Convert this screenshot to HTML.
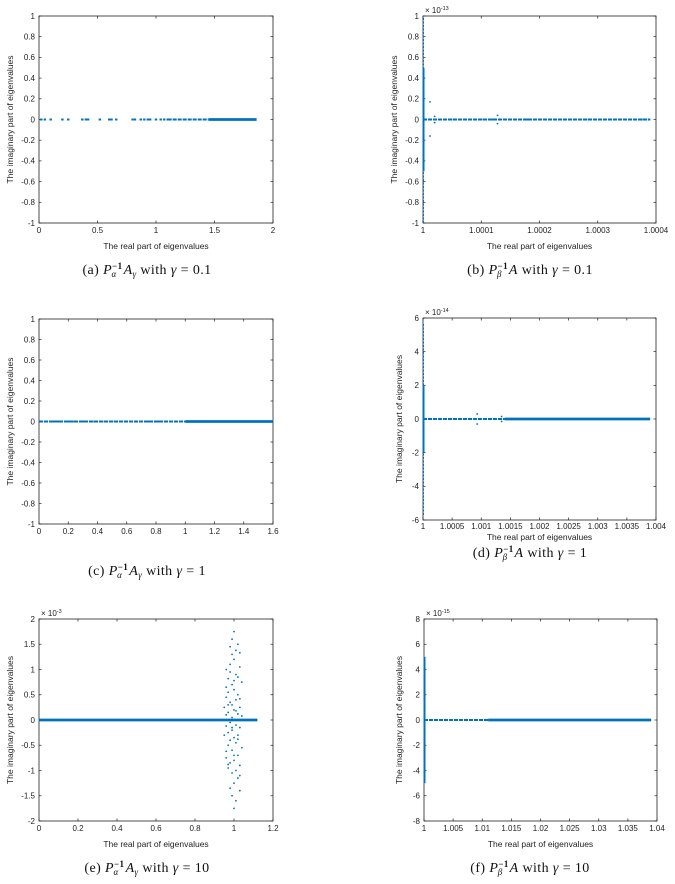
<!DOCTYPE html>
<html><head><meta charset="utf-8">
<style>
html,body{margin:0;padding:0;background:#fff;width:675px;height:884px;overflow:hidden}
svg{display:block}
.tk{font-family:"Liberation Sans",sans-serif;font-size:8px;fill:#222}
.lb{font-family:"Liberation Sans",sans-serif;font-size:8.5px;fill:#222}
.cap{font-family:"Liberation Serif",serif;font-size:14px;fill:#111;letter-spacing:0.4px}
</style></head>
<body>
<svg id="fig" width="675" height="884" viewBox="0 0 675 884" xmlns="http://www.w3.org/2000/svg"></svg>
<script>
// ---- data ----
// panel a
const aXTicks=[0,0.5,1,1.5,2];
const aYTicks=[-1,-0.8,-0.6,-0.4,-0.2,0,0.2,0.4,0.6,0.8,1];
const aDots=[0.02,0.05,0.1,0.2,0.25,0.37,0.4,0.42,0.52,0.6,0.62,0.66,0.8,0.82,0.87,0.9,0.93,0.95,1.0,1.04,1.07,1.1];
const aSegThin=[[1.1,1.45]];
const aSegThick=[[1.45,1.86]];
// panel b (x in 1e-4 offset from 1, y in 1e-13)
const bXTicks=[0,1,2,3,4];
const bXLabels=["1","1.0001","1.0002","1.0003","1.0004"];
const bYTicks=[-1,-0.8,-0.6,-0.4,-0.2,0,0.2,0.4,0.6,0.8,1];
const bSegThin=[[0,3.9]];
const bDots=[0.2,0.3,0.53,0.8,1.0,1.18,1.25,1.4,1.8,2.8,3.3,3.75,3.88];
const bVert=[[0,-0.5,0.5],[0,-1,1]];
const bScatter=[[0.12,0.17],[0.12,-0.16],[0.2,0.03],[0.2,-0.03],[1.28,0.04],[1.28,-0.04]];
// panel c
const cXTicks=[0,0.2,0.4,0.6,0.8,1,1.2,1.4,1.6];
const cYTicks=[-1,-0.8,-0.6,-0.4,-0.2,0,0.2,0.4,0.6,0.8,1];
const cSegThin=[[0,1.0]];
const cSegThick=[[1.0,1.6]];
const cDots=[0.02,0.05,0.1,0.13,0.2,0.23,0.3,0.38,0.45,0.5,0.56,0.6,0.7,0.75,0.82,0.9];
// panel d (x in 1e-3 offset from 1, y in 1e-14)
const dXTicks=[0,0.5,1,1.5,2,2.5,3,3.5,4];
const dXLabels=["1","1.0005","1.001","1.0015","1.002","1.0025","1.003","1.0035","1.004"];
const dYTicks=[-6,-4,-2,0,2,4,6];
const dSegThin=[[0,1.4]];
const dSegThick=[[1.4,3.9]];
const dVert=[[0,-2,2],[0,-5.7,5.7]];
const dScatter=[[0.93,0.3],[0.93,-0.3],[1.35,0.15],[1.35,-0.15]];
// panel e (y in 1e-3)
const eXTicks=[0,0.2,0.4,0.6,0.8,1,1.2];
const eYTicks=[-2,-1.5,-1,-0.5,0,0.5,1,1.5,2];
const eSegThick=[[0,1.12]];
const eScatter=[[1.0,1.75],[0.99,1.6],[1.02,1.5],[0.98,1.45],[1.01,1.38],[1.03,1.33],[0.99,1.3],[1.0,1.2],[0.96,1.0],[0.98,0.95],[1.01,0.9],[1.02,0.85],[0.97,0.82],[1.04,0.75],[0.99,0.7],[1.0,0.6],[0.97,0.55],[1.02,0.5],[0.96,0.45],[1.01,0.4],[0.98,0.35],[0.99,0.3],[1.03,0.25],[0.95,0.25],[1.0,0.2],[0.97,0.15],[1.02,0.12],[0.96,0.1],[0.99,0.05],[1.04,0.08],[1.0,0.0],[0.98,-0.05],[1.01,-0.1],[0.96,-0.12],[1.03,-0.15],[0.99,-0.2],[0.97,-0.25],[1.02,-0.3],[1.0,-0.35],[0.95,-0.3],[0.98,-0.4],[1.01,-0.45],[0.97,-0.5],[1.04,-0.55],[0.99,-0.6],[1.02,-0.7],[0.96,-0.75],[1.0,-0.8],[0.98,-0.85],[1.03,-0.9],[0.97,-0.95],[1.01,-1.0],[0.99,-1.05],[1.02,-1.15],[1.0,-1.25],[0.98,-1.35],[1.03,-1.4],[0.99,-1.5],[1.01,-1.6],[1.0,-1.75],[0.98,1.1],[1.03,1.05],[1.0,0.78],[0.96,0.65],[1.03,0.42],[0.97,0.3],[1.01,0.18],[0.99,-0.15],[1.02,-0.38],[0.96,-0.62],[1.0,-0.7],[1.03,-1.1],[0.97,-0.88]];
// panel f (x offset from 1 in 1e-3, y in 1e-15)
const fXTicks=[0,5,10,15,20,25,30,35,40];
const fXLabels=["1","1.005","1.01","1.015","1.02","1.025","1.03","1.035","1.04"];
const fYTicks=[-8,-6,-4,-2,0,2,4,6,8];
const fSegThin=[[0,11]];
const fSegThick=[[11,39]];
const fVert=[[0,-5,5]];

const C="#0072BD";
const svg=document.getElementById('fig');
const NS="http://www.w3.org/2000/svg";
function mk(t,a,p){const e=document.createElementNS(NS,t);for(const k in a)e.setAttribute(k,a[k]);(p||svg).appendChild(e);return e;}

function panel(o){
  const g=mk('g',{});
  
  
  const sx=v=>o.L+(v-o.x0)/(o.x1-o.x0)*(o.R-o.L);
  const sy=v=>o.B-(v-o.y0)/(o.y1-o.y0)*(o.B-o.T);
  const tko=o.tko||10, lbo=o.lbo||26;
  const box=mk('rect',{x:o.L,y:o.T,width:o.R-o.L,height:o.B-o.T,fill:'none',stroke:'#222','stroke-width':0.8},g);
  
  
  o.xt.forEach((v,i)=>{
    const x=sx(v);
    mk('line',{x1:x,y1:o.B,x2:x,y2:o.B-2.5,stroke:'#222','stroke-width':0.7},g);
    mk('line',{x1:x,y1:o.T,x2:x,y2:o.T+2.5,stroke:'#222','stroke-width':0.7},g);
    const t=mk('text',{x:x,y:o.B+tko,'text-anchor':'middle',class:'tk'},g);
    t.textContent=o.xl?o.xl[i]:String(v);
    
    
  });
  o.yt.forEach(v=>{
    const y=sy(v);
    mk('line',{x1:o.L,y1:y,x2:o.L+2.5,y2:y,stroke:'#222','stroke-width':0.7},g);
    mk('line',{x1:o.R,y1:y,x2:o.R-2.5,y2:y,stroke:'#222','stroke-width':0.7},g);
    const t=mk('text',{x:o.L-4,y:y+2.8,'text-anchor':'end',class:'tk'},g);
    t.textContent=String(v);
    
    
  });
  if(o.exp){
    const t=mk('text',{x:o.L+2,y:o.T-3,class:'tk'},g);
    t.innerHTML='× 10<tspan dy="-3" font-size="5.5">'+o.exp+'</tspan>';
    
    
  }
  const yc=(o.T+o.B)/2;
  const yl=mk('text',{x:o.ylx,y:yc,'text-anchor':'middle',class:'lb',transform:`rotate(-90 ${o.ylx} ${yc})`},g);
  yl.textContent='The imaginary part of eigenvalues';
  
  
  if(o.xlab){
    const xl=mk('text',{x:(o.L+o.R)/2,y:o.B+lbo,'text-anchor':'middle',class:'lb'},g);
    xl.textContent='The real part of eigenvalues';
    
    
  }
  (o.thin||[]).forEach(s=>{
    const l=mk('line',{x1:sx(s[0]),y1:sy(0),x2:sx(s[1]),y2:sy(0),stroke:C,'stroke-width':2,'stroke-dasharray':'4 1'},g);
    
    
  });
  (o.thick||[]).forEach(s=>{
    const l=mk('line',{x1:sx(s[0]),y1:sy(0),x2:sx(s[1]),y2:sy(0),stroke:C,'stroke-width':2.8},g);
    
    
  });
  (o.vert||[]).forEach((s,i)=>{
    const l=mk('line',{x1:sx(s[0])+0.5,y1:sy(s[1]),x2:sx(s[0])+0.5,y2:sy(s[2]),stroke:C,'stroke-width':i==0?2:1,'stroke-dasharray':i==0?'':'2 1.5'},g);
    
    
  });
  (o.dots||[]).forEach(v=>{
    const c=mk('rect',{x:sx(v)-1.2,y:sy(0)-1,width:2.4,height:2,fill:C},g);
    
    
  });
  (o.pts||[]).forEach(p=>{
    const c=mk('circle',{cx:sx(p[0]),cy:sy(p[1]),r:0.9,fill:C},g);
    
    
  });
  const cap=mk('text',{x:o.cx,y:o.cy,'text-anchor':'middle',class:'cap'},g);
  cap.innerHTML=o.cap;
  
  
}
const PA='<tspan font-style="italic">P</tspan><tspan font-size="9" font-weight="bold" dy="-5">−1</tspan><tspan font-size="9" font-style="italic" dx="-11" dy="8">α</tspan><tspan dx="7" dy="-3" font-style="italic">A</tspan><tspan font-size="9" font-style="italic" dy="3">γ</tspan><tspan dy="-3"> with </tspan><tspan font-style="italic">γ</tspan> = ';
const PB='<tspan font-style="italic">P</tspan><tspan font-size="9" font-weight="bold" dy="-5">−1</tspan><tspan font-size="9" font-style="italic" dx="-11" dy="8">β</tspan><tspan dx="7" dy="-3" font-style="italic">A</tspan> with <tspan font-style="italic">γ</tspan> = ';
panel({name:'panel-a',L:39,R:273,T:16,B:223,x0:0,x1:2,y0:-1,y1:1,xt:aXTicks,yt:aYTicks,dots:aDots,thin:aSegThin,thick:aSegThick,ylx:13,xlab:true,cx:147,cy:274,cap:'(a)  '+PA+'0.1'});
panel({name:'panel-b',L:423,R:656,T:16,B:223,x0:0,x1:4,y0:-1,y1:1,xt:bXTicks,xl:bXLabels,yt:bYTicks,dots:bDots,thin:bSegThin,vert:bVert,pts:bScatter,exp:'-13',ylx:397,xlab:true,cx:530,cy:274,cap:'(b)  '+PB+'0.1'});
panel({name:'panel-c',L:39,R:273,T:319,B:524,x0:0,x1:1.6,y0:-1,y1:1,xt:cXTicks,yt:cYTicks,dots:cDots,thin:cSegThin,thick:cSegThick,ylx:13,xlab:false,cx:147,cy:575,cap:'(c)  '+PA+'1'});
panel({name:'panel-d',L:423,R:656,T:318,B:520,x0:0,x1:4,y0:-6,y1:6,xt:dXTicks,xl:dXLabels,yt:dYTicks,thin:dSegThin,thick:dSegThick,vert:dVert,pts:dScatter,exp:'-14',ylx:402,xlab:true,tko:9,lbo:20,cx:530,cy:557,cap:'(d)  '+PB+'1'});
panel({name:'panel-e',L:39,R:273,T:619,B:821,x0:0,x1:1.2,y0:-2,y1:2,xt:eXTicks,yt:eYTicks,thick:eSegThick,pts:eScatter,exp:'-3',ylx:13,xlab:true,cx:147,cy:872,cap:'(e)  '+PA+'10'});
panel({name:'panel-f',L:424,R:657,T:619,B:821,x0:0,x1:40,y0:-8,y1:8,xt:fXTicks,xl:fXLabels,yt:fYTicks,thin:fSegThin,thick:fSegThick,vert:fVert,exp:'-15',ylx:402,xlab:true,cx:530,cy:872,cap:'(f)  '+PB+'10'});
</script>
</body></html>
